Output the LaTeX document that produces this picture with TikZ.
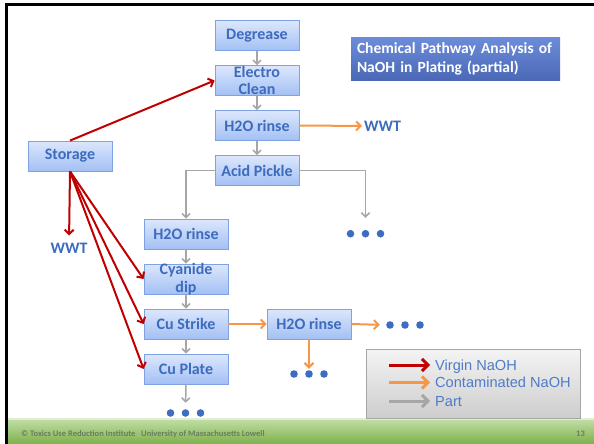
\documentclass[tikz,border=0pt]{standalone}
\usepackage{fontspec}
\setmainfont{Carlito}
\newfontfamily\legendfont{Liberation Sans}
\usetikzlibrary{arrows.meta}
\definecolor{boxtop}{HTML}{DCE7FC}
\definecolor{boxbottom}{HTML}{A3C0F4}
\definecolor{boxline}{HTML}{7FA3E2}
\definecolor{boxtext}{HTML}{3D6BBE}
\definecolor{titletop}{HTML}{6C8CDA}
\definecolor{titlebottom}{HTML}{4A68B5}
\definecolor{virginred}{HTML}{C00000}
\definecolor{contamorange}{HTML}{F79646}
\definecolor{partgray}{HTML}{A6A6A6}
\definecolor{dotblue}{HTML}{3C6DC2}
\definecolor{legendtop}{HTML}{F4F4F4}
\definecolor{legendbottom}{HTML}{CDCDCD}
\definecolor{legendblue}{HTML}{4F7BC8}
\definecolor{footertop}{HTML}{C4E0AA}
\definecolor{footerbottom}{HTML}{7DB04C}
\definecolor{footertext}{HTML}{6A7D5C}
\begin{document}
\begin{tikzpicture}[x=1pt, y=-1pt,
    stepbox/.style={rectangle, draw=boxline, line width=0.8pt, top color=boxtop, bottom color=boxbottom,
        minimum width=84pt, minimum height=30pt, inner sep=0pt, text=boxtext, align=center,
        font=\fontsize{16}{17.6}\selectfont\bfseries},
    twoline/.style={inner ysep=-1.5pt},
    sinklabel/.style={inner sep=0pt, text height=10.5pt, text depth=0pt, text=boxtext,
        font=\fontsize{16}{17.6}\selectfont\bfseries},
    dotrow/.style={minimum width=38pt, minimum height=8pt, inner sep=0pt,
        path picture={\foreach \k in {-1,0,1}
            \fill[dotblue] ([xshift=\k*15pt]path picture bounding box.center) circle (3.8pt);}},
    virgin/.style={virginred, line width=2pt, -{Straight Barb[length=4.5pt,width=9pt]}},
    contam/.style={contamorange, line width=2pt, -{Straight Barb[length=4.5pt,width=9pt]}},
    part/.style={partgray, line width=1.5pt, -{Straight Barb[length=4pt,width=8pt]}},
    keyarrow/.style={line width=3pt, -{Straight Barb[length=6pt,width=12pt]}},
    keytext/.style={anchor=west, inner xsep=5pt, inner ysep=0pt, text height=10.5pt, text depth=0pt,
        text=legendblue, font=\legendfont\fontsize{14.6}{17}\selectfont}]
    \useasboundingbox (0,0) rectangle (594,444);
    \fill[black] (5,3.3) rectangle (8,444);
    \fill[black] (5,3.3) rectangle (594,6.2);
    \shade[top color=footertop, bottom color=footerbottom] (8,418) rectangle (594,444);
    \fill[white, opacity=0.5] (8,418) rectangle (594,419.5);
    \node[anchor=west, inner sep=0pt, text=footertext, font=\fontsize{8.5}{10}\selectfont\bfseries]
        (credit) at (21,434) {\textcopyright{} Toxics Use Reduction Institute\ \ \ University of Massachusetts Lowell};
    \node[anchor=east, inner sep=0pt, text=footertext, font=\fontsize{8.5}{10}\selectfont\bfseries]
        (pageno) at (585,434) {13};

    \node[rectangle, top color=titletop, bottom color=titlebottom, text=white, align=left,
        text width=197pt, inner xsep=6pt, minimum height=43pt,
        font=\fontsize{15.5}{18.3}\selectfont\bfseries] (title) at (455.5,59)
        {Chemical Pathway Analysis of\\NaOH in Plating (partial)};

    \node[stepbox] (degrease) at (257,35.5) {Degrease};
    \node[stepbox, twoline] (electro) at (257,80.5) {Electro\\Clean};
    \node[stepbox] (rinseA) at (257,125.5) {H2O rinse};
    \node[stepbox] (pickle) at (257,170.5) {Acid Pickle};
    \node[stepbox] (storage) at (70,156) {Storage};
    \node[stepbox] (rinseB) at (186,234) {H2O rinse};
    \node[stepbox, twoline] (cyanide) at (186,279) {Cyanide\\dip};
    \node[stepbox] (strike) at (186,324) {Cu Strike};
    \node[stepbox] (plate) at (186,369) {Cu Plate};
    \node[stepbox] (rinseC) at (309,324) {H2O rinse};

    \node[sinklabel, anchor=west] (wwtA) at (364,126) {WWT};
    \node[sinklabel] (wwtB) at (69,248) {WWT};

    \node[dotrow] (dotsA) at (365.5,233.7) {};
    \node[dotrow] (dotsB) at (185.5,413) {};
    \node[dotrow] (dotsC) at (405,325) {};
    \node[dotrow] (dotsD) at (309,374) {};

    \draw[part] (degrease) -- (electro);
    \draw[part] (electro) -- (rinseA);
    \draw[part] (rinseA) -- (pickle);
    \draw[part] (pickle.west) -| (rinseB.north);
    \draw[part, shorten >=11.7pt] (pickle.east) -| (dotsA.north);
    \draw[part] (rinseB) -- (cyanide);
    \draw[part] (cyanide) -- (strike);
    \draw[part] (strike) -- (plate);
    \draw[part, shorten >=6pt] (plate.south) -- (dotsB.north);

    \draw[contam, shorten >=2pt] (rinseA.east) -- (wwtA.west);
    \draw[contam] (strike.east) -- (rinseC.west);
    \draw[contam, shorten >=6pt] (rinseC.east) -- (dotsC.west);
    \draw[contam, shorten >=1pt] (rinseC.south) -- (dotsD.north);

    \draw[virgin] (storage.north) -- (electro.west);
    \draw[virgin, shorten >=7pt] (storage.south) -- (wwtB.north);
    \draw[virgin] (storage.south) -- (cyanide.west);
    \draw[virgin] (storage.south) -- (strike.west);
    \draw[virgin] (storage.south) -- (plate.west);

    \node[rectangle, draw=partgray, line width=0.8pt, top color=legendtop, bottom color=legendbottom,
        minimum width=214pt, minimum height=69pt] (legend) at (473,383.5) {};
    \coordinate (keyvirgin) at (389,365);
    \coordinate (keycontam) at (389,382.5);
    \coordinate (keypart) at (389,401);
    \node[keytext] (virgintext) at (430,365) {Virgin NaOH};
    \node[keytext] (contamtext) at (430,382.5) {Contaminated NaOH};
    \node[keytext] (parttext) at (430,401) {Part};
    \draw[virgin, keyarrow] (keyvirgin) -- (virgintext.west);
    \draw[contam, keyarrow] (keycontam) -- (contamtext.west);
    \draw[part, keyarrow] (keypart) -- (parttext.west);
\end{tikzpicture}
\end{document}
